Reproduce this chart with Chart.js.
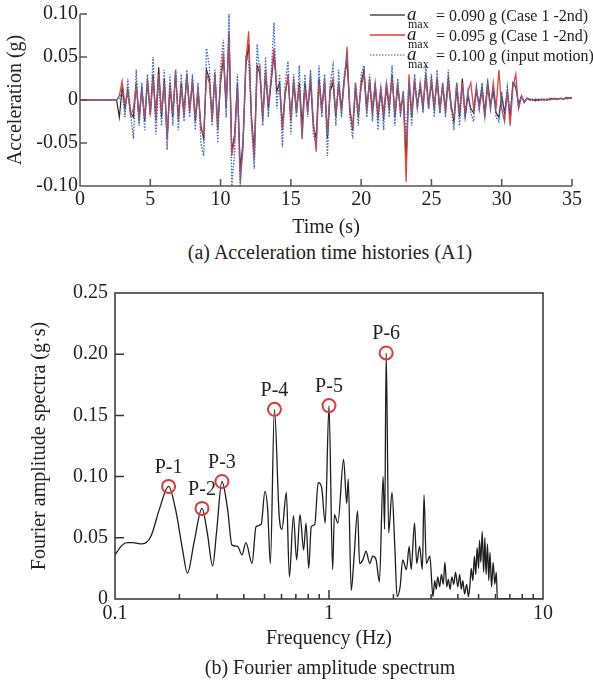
<!DOCTYPE html>
<html>
<head>
<meta charset="utf-8">
<script src="https://cdn.jsdelivr.net/npm/chart.js@4.4.1/dist/chart.umd.min.js"></script>
<style>
    html, body { margin: 0; padding: 0; background: #fff; }
    #page { position: relative; width: 593px; height: 684px; overflow: hidden; font-family: 'Liberation Serif', 'Times New Roman', serif; color: #222; }
    .box { position: absolute; left: 0; width: 593px; }
    #topBox { top: 0; height: 240px; }
    #bottomBox { top: 262px; height: 422px; }
    .caption { position: absolute; left: 30px; width: 600px; text-align: center; font-size: 20px; line-height: 24px; }
</style>
</head>
<body>
<div id="page">
    <div class="box" id="topBox"><canvas id="accelChart" width="593" height="240"></canvas></div>
    <div class="caption" style="top: 240px;">(a) Acceleration time histories (A1)</div>
    <div class="box" id="bottomBox"><canvas id="fourierChart" width="593" height="422"></canvas></div>
    <div class="caption" style="top: 655px;">(b) Fourier amplitude spectrum</div>
</div>
<script>
// ---- (a) acceleration time histories, sampled every 0.2 s ----
const timeSec = [
    0, 0.2, 0.4, 0.6, 0.8, 1, 1.2, 1.4, 1.6, 1.8,
    2, 2.2, 2.4, 2.6, 2.8, 3, 3.2, 3.4, 3.6, 3.8,
    4, 4.2, 4.4, 4.6, 4.8, 5, 5.2, 5.4, 5.6, 5.8,
    6, 6.2, 6.4, 6.6, 6.8, 7, 7.2, 7.4, 7.6, 7.8,
    8, 8.2, 8.4, 8.6, 8.8, 9, 9.2, 9.4, 9.6, 9.8,
    10, 10.2, 10.4, 10.6, 10.8, 11, 11.2, 11.4, 11.6, 11.8,
    12, 12.2, 12.4, 12.6, 12.8, 13, 13.2, 13.4, 13.6, 13.8,
    14, 14.2, 14.4, 14.6, 14.8, 15, 15.2, 15.4, 15.6, 15.8,
    16, 16.2, 16.4, 16.6, 16.8, 17, 17.2, 17.4, 17.6, 17.8,
    18, 18.2, 18.4, 18.6, 18.8, 19, 19.2, 19.4, 19.6, 19.8,
    20, 20.2, 20.4, 20.6, 20.8, 21, 21.2, 21.4, 21.6, 21.8,
    22, 22.2, 22.4, 22.6, 22.8, 23, 23.2, 23.4, 23.6, 23.8,
    24, 24.2, 24.4, 24.6, 24.8, 25, 25.2, 25.4, 25.6, 25.8,
    26, 26.2, 26.4, 26.6, 26.8, 27, 27.2, 27.4, 27.6, 27.8,
    28, 28.2, 28.4, 28.6, 28.8, 29, 29.2, 29.4, 29.6, 29.8,
    30, 30.2, 30.4, 30.6, 30.8, 31, 31.2, 31.4, 31.6, 31.8,
    32, 32.2, 32.4, 32.6, 32.8, 33, 33.2, 33.4, 33.6, 33.8,
    34, 34.2, 34.4, 34.6, 34.8, 35
];

// a_max = 0.090 g (Case 1 -2nd)
const accelCase090 = [
    0, 0, 0, 0, 0, 0, 0, 0, 0, 0,
    0, 0, 0, 0, -0.02, 0.015, -0.01, 0.012, -0.015, -0.02,
    0.02, -0.02, 0.015, -0.025, 0.02, -0.015, 0.03, -0.02, 0.038, -0.02,
    0.025, -0.045, 0.015, -0.02, 0.03, -0.02, 0.02, -0.015, 0.03, -0.01,
    0.02, -0.025, 0.01, -0.03, -0.045, 0.035, 0.025, -0.02, 0.03, -0.03,
    0.02, 0.05, -0.01, 0.075, -0.06, -0.04, 0.02, -0.08, -0.05, 0.04,
    0.065, -0.02, -0.06, 0.04, 0.03, -0.02, 0.03, -0.01, 0.02, 0.055,
    0.01, 0.02, -0.03, 0.01, 0.025, -0.02, 0.02, -0.015, 0.02, -0.03,
    0.02, -0.01, 0.02, -0.03, -0.045, 0.025, -0.01, 0.02, -0.045, 0.01,
    0.02, -0.02, 0.02, -0.01, 0.025, 0.045, -0.01, -0.035, 0.015, -0.02,
    0.02, 0.035, -0.01, 0.02, -0.015, 0.015, -0.02, 0.01, -0.02, 0.015,
    -0.01, 0.03, -0.02, 0.015, -0.01, 0.005, -0.07, 0.02, -0.02, 0.02,
    -0.005, 0.015, -0.01, 0.03, -0.005, 0.02, -0.01, 0.025, -0.01, 0.015,
    -0.01, 0.025, -0.005, -0.025, 0.015, -0.02, 0.025, -0.02, 0.005, -0.01,
    -0.015, 0.01, -0.005, 0.015, -0.015, 0.02, -0.005, 0.01, -0.015, -0.02,
    0.005, -0.015, 0.01, -0.02, 0.02, 0.015, -0.005, 0.004, -0.002, 0.002,
    0, 0.001, -0.001, 0.001, 0, 0.001, 0, 0.001, 0.002, 0.001,
    0.001, 0.002, 0.001, 0.003, 0.002, 0.003
];

// a_max = 0.095 g (Case 1 -2nd)
const accelCase095 = [
    0, 0, 0, 0, 0, 0, 0, 0, 0, 0,
    0, 0, 0, 0, 0.005, 0.022, -0.005, 0.008, -0.018, -0.01,
    0.018, -0.025, 0.012, -0.02, 0.025, -0.018, 0.025, -0.025, 0.03, -0.015,
    0.02, -0.045, 0.02, -0.015, 0.035, -0.025, 0.015, -0.02, 0.03, -0.015,
    0.025, -0.02, 0.015, -0.035, -0.04, 0.03, 0.02, -0.025, 0.03, -0.035,
    0.025, 0.055, -0.005, 0.08, -0.065, -0.045, 0.015, -0.095, -0.055, 0.045,
    0.08, -0.025, -0.07, 0.035, 0.04, -0.025, 0.035, -0.005, 0.025, 0.06,
    0.015, 0.015, -0.035, 0.005, 0.03, -0.025, 0.025, -0.01, 0.015, -0.045,
    0.015, -0.015, 0.03, -0.025, -0.06, 0.02, -0.015, 0.025, -0.04, 0.015,
    0.025, -0.015, 0.015, -0.015, 0.02, 0.062, -0.015, -0.03, 0.02, -0.015,
    0.015, 0.03, -0.015, 0.025, -0.01, 0.02, -0.015, 0.015, -0.015, 0.02,
    -0.005, 0.025, -0.015, 0.02, -0.015, 0.01, -0.095, 0.03, -0.015, 0.025,
    -0.01, 0.02, -0.005, 0.025, -0.01, 0.025, -0.005, 0.02, -0.015, 0.02,
    -0.015, 0.02, -0.01, -0.02, 0.02, -0.015, 0.02, -0.015, 0.01, 0.02,
    -0.01, 0.015, -0.01, 0.01, -0.02, 0.015, -0.01, 0.02, -0.01, 0.035,
    -0.01, -0.025, 0.01, -0.03, 0.015, 0.03, -0.01, 0.005, -0.003, 0.002,
    0.001, 0, 0.001, -0.001, 0.001, 0, 0.001, 0, 0.001, 0.002,
    0.001, 0.002, 0.001, 0.002, 0.003, 0.002
];

// a_max = 0.100 g (input motion)
const accelInput = [
    0, 0, 0, 0, 0, 0, 0, 0, 0, 0,
    0, 0, 0, 0, 0.002, 0.01, -0.02, 0.025, -0.015, -0.045,
    0.035, -0.03, 0.02, -0.035, 0.03, -0.02, 0.05, -0.04, 0.025, -0.03,
    0.035, -0.058, 0.03, -0.03, 0.035, -0.035, 0.03, -0.025, 0.035, -0.02,
    0.03, -0.035, 0.02, -0.05, -0.065, 0.06, 0.04, -0.03, 0.035, -0.05,
    0.04, 0.07, -0.02, 0.1, -0.1, -0.06, 0.03, -0.1, -0.04, 0.05,
    0.045, -0.03, -0.08, 0.065, 0.03, -0.03, 0.05, -0.02, 0.03, 0.09,
    -0.01, 0.03, -0.055, 0.02, 0.045, -0.04, 0.03, -0.02, 0.04, -0.045,
    0.03, -0.02, 0.035, -0.04, -0.05, 0.04, -0.02, 0.03, -0.065, 0.02,
    0.04, -0.03, 0.035, -0.02, 0.03, 0.05, -0.02, -0.045, 0.02, -0.03,
    0.03, 0.04, -0.02, 0.03, -0.025, 0.02, -0.035, 0.015, -0.035, 0.02,
    -0.02, 0.04, -0.03, 0.025, -0.02, 0.01, -0.045, 0.02, -0.03, 0.03,
    -0.01, 0.02, -0.015, 0.04, -0.01, 0.03, -0.02, 0.035, -0.015, 0.02,
    -0.02, 0.035, -0.01, -0.035, 0.02, -0.03, 0.015, -0.02, 0.01, -0.015,
    -0.025, 0.015, -0.01, 0.02, -0.02, 0.025, -0.01, 0.015, -0.02, -0.025,
    0.01, -0.02, 0.015, -0.015, 0.02, 0.02, -0.01, 0.005, -0.003, 0.002,
    0.001, 0, 0.001, 0, 0.001, 0, 0.001, 0.002, 0.001, 0.001,
    0.002, 0.001, 0.002, 0.001, 0.002, 0.003
];

const seriesNames = ['0.090 g (Case 1 -2nd)', '0.095 g (Case 1 -2nd)', '0.100 g (input motion)'];

const timeTicks = [0, 5, 10, 15, 20, 25, 30, 35];
const timeTickLabels = ['0', '5', '10', '15', '20', '25', '30', '35'];
const accelTicks = [-0.10, -0.05, 0, 0.05, 0.10];
const accelTickLabels = ['-0.10', '-0.05', '0', '0.05', '0.10'];

// ---- (b) Fourier amplitude spectrum ----
const freqHz = [
    0.100, 0.108, 0.114, 0.121, 0.134, 0.147, 0.161, 0.178, 0.192, 0.207,
    0.218, 0.234, 0.255, 0.270, 0.286, 0.298, 0.316, 0.336, 0.352, 0.374,
    0.392, 0.409, 0.437, 0.456, 0.482, 0.502, 0.517, 0.532, 0.556, 0.585,
    0.603, 0.632, 0.653, 0.682, 0.706, 0.732, 0.761, 0.781, 0.804, 0.826,
    0.858, 0.890, 0.924, 0.960, 1.000, 1.040, 1.060, 1.100, 1.170, 1.210,
    1.230, 1.270, 1.310, 1.360, 1.390, 1.440, 1.490, 1.550, 1.600, 1.660,
    1.720, 1.790, 1.820, 1.850, 1.900, 1.970, 2.030, 2.080, 2.150, 2.210,
    2.300, 2.370, 2.420, 2.510, 2.570, 2.650, 2.730, 2.780, 2.850, 2.960,
    3.060, 3.120, 3.170, 3.220, 3.290, 3.350, 3.420, 3.480, 3.550, 3.610,
    3.680, 3.750, 3.830, 3.900, 4.000, 4.080, 4.150, 4.220, 4.300, 4.400,
    4.480, 4.550, 4.620, 4.700, 4.780, 4.850, 4.920, 5.000, 5.050, 5.120,
    5.200, 5.280, 5.350, 5.420, 5.500, 5.580, 5.650, 5.750, 5.850, 5.950,
    6.050, 6.120, 7.000, 10.00
];
const fourierAmp = [
    0.036, 0.044, 0.046, 0.046, 0.045, 0.051, 0.073, 0.092, 0.073, 0.040,
    0.021, 0.046, 0.074, 0.054, 0.027, 0.054, 0.096, 0.073, 0.044, 0.043,
    0.036, 0.046, 0.029, 0.059, 0.061, 0.088, 0.073, 0.029, 0.155, 0.068,
    0.057, 0.087, 0.018, 0.068, 0.032, 0.069, 0.040, 0.062, 0.025, 0.059,
    0.061, 0.095, 0.091, 0.062, 0.158, 0.024, 0.069, 0.062, 0.114, 0.078,
    0.098, 0.007, 0.035, 0.072, 0.029, 0.032, 0.039, 0.029, 0.035, 0.032,
    0.014, 0.100, 0.057, 0.201, 0.054, 0.087, 0.043, 0.002, 0.010, 0.032,
    0.024, 0.043, 0.024, 0.062, 0.029, 0.043, 0.024, 0.085, 0.029, 0.035,
    0.002, 0.015, 0.008, 0.018, 0.010, 0.020, 0.012, 0.030, 0.010, 0.016,
    0.008, 0.018, 0.012, 0.022, 0.010, 0.020, 0.008, 0.015, 0.004, 0.012,
    0.002, 0.010, 0.025, 0.015, 0.035, 0.020, 0.042, 0.025, 0.048, 0.030,
    0.055, 0.022, 0.050, 0.020, 0.045, 0.015, 0.038, 0.010, 0.030, 0.012,
    0.022, 0.000, 0.000, 0.000
];

const peakFreq = [0.178, 0.255, 0.316, 0.556, 1.000, 1.850];
const peakAmp = [0.092, 0.074, 0.096, 0.155, 0.158, 0.201];
const peakLabels = ['P-1', 'P-2', 'P-3', 'P-4', 'P-5', 'P-6'];

const freqTicks = [0.1, 1, 10];
const freqTickLabels = ['0.1', '1', '10'];
const freqMinorTicks = [0.2, 0.3, 0.4, 0.5, 0.6, 0.7, 0.8, 0.9, 2, 3, 4, 5, 6, 7, 8, 9];
const ampTicks = [0, 0.05, 0.10, 0.15, 0.20, 0.25];
const ampTickLabels = ['0', '0.05', '0.10', '0.15', '0.20', '0.25'];

const SERIF = "'Liberation Serif', 'Times New Roman', serif";
const INK = '#222';

function toPoints(xs, ys) {
    return xs.map((x, i) => ({ x: x, y: ys[i] }));
}

// Axis lines and inward tick marks (the library only draws outward ticks)
const innerTicks = {
    id: 'innerTicks',
    afterDatasetsDraw(chart, args, opts) {
        const ctx = chart.ctx;
        const area = chart.chartArea;
        const xs = chart.scales.x;
        const ys = chart.scales.y;
        ctx.save();
        ctx.strokeStyle = opts.color;
        ctx.lineWidth = opts.lineWidth;
        ctx.beginPath();
        if (opts.frame) {
            ctx.rect(area.left, area.top, area.right - area.left, area.bottom - area.top);
        } else {
            ctx.moveTo(area.left, area.top);
            ctx.lineTo(area.left, area.bottom);
            ctx.lineTo(area.right, area.bottom);
        }
        (opts.xMajor || []).forEach(v => {
            const px = xs.getPixelForValue(v);
            ctx.moveTo(px, area.bottom);
            ctx.lineTo(px, area.bottom - opts.majorLen);
        });
        (opts.xMinor || []).forEach(v => {
            const px = xs.getPixelForValue(v);
            ctx.moveTo(px, area.bottom);
            ctx.lineTo(px, area.bottom - opts.minorLen);
        });
        (opts.yMajor || []).forEach(v => {
            const py = ys.getPixelForValue(v);
            ctx.moveTo(area.left, py);
            ctx.lineTo(area.left + opts.majorLen, py);
        });
        ctx.stroke();
        ctx.restore();
    }
};

// Legend with italic a and subscript "max"
const accelLegend = {
    id: 'accelLegend',
    afterDraw(chart, args, opts) {
        const ctx = chart.ctx;
        ctx.save();
        ctx.textAlign = 'left';
        ctx.textBaseline = 'middle';
        opts.items.forEach((item, i) => {
            const y = opts.top + i * opts.rowGap;
            ctx.strokeStyle = item.color;
            ctx.lineWidth = item.width;
            ctx.setLineDash(item.dash || []);
            ctx.beginPath();
            ctx.moveTo(opts.x, y - 2);
            ctx.lineTo(opts.x + opts.lineLen, y - 2);
            ctx.stroke();
            ctx.setLineDash([]);
            ctx.fillStyle = INK;
            ctx.font = 'italic 19px ' + SERIF;
            ctx.fillText('a', opts.x + opts.lineLen + 2, y - 2);
            ctx.font = '12px ' + SERIF;
            ctx.fillText('max', opts.x + opts.lineLen + 3, y + 8);
            ctx.font = '16px ' + SERIF;
            ctx.fillText('= ' + item.text, opts.x + opts.lineLen + 31, y);
        });
        ctx.restore();
    }
};

// P-n labels above the marked peaks
const peakNames = {
    id: 'peakNames',
    afterDatasetsDraw(chart, args, opts) {
        const meta = chart.getDatasetMeta(opts.datasetIndex);
        const ctx = chart.ctx;
        ctx.save();
        ctx.fillStyle = INK;
        ctx.font = '20px ' + SERIF;
        ctx.textAlign = 'center';
        ctx.textBaseline = 'middle';
        meta.data.forEach((el, i) => {
            ctx.fillText(opts.labels[i], el.x, el.y - opts.offset);
        });
        ctx.restore();
    }
};

const tickFont = { family: SERIF, size: 20 };

// Chart (a)
new Chart(document.getElementById('accelChart'), {
    type: 'line',
    data: {
        datasets: [
            {
                label: seriesNames[2],
                data: toPoints(timeSec, accelInput),
                borderColor: '#3e6bc6',
                borderWidth: 1.4,
                borderDash: [1.5, 1.5],
                pointRadius: 0,
                tension: 0,
                order: 0
            },
            {
                label: seriesNames[1],
                data: toPoints(timeSec, accelCase095),
                borderColor: '#e2453d',
                borderWidth: 1.3,
                pointRadius: 0,
                tension: 0,
                order: 1
            },
            {
                label: seriesNames[0],
                data: toPoints(timeSec, accelCase090),
                borderColor: '#2a2a2a',
                borderWidth: 1.2,
                pointRadius: 0,
                tension: 0,
                order: 2
            }
        ]
    },
    options: {
        responsive: false,
        animation: false,
        devicePixelRatio: 1,
        layout: { padding: { left: 0, right: 21, top: 14, bottom: 0 } },
        plugins: {
            legend: { display: false },
            tooltip: { enabled: false },
            innerTicks: {
                color: '#555', lineWidth: 1.5, frame: false,
                xMajor: timeTicks, yMajor: accelTicks, majorLen: 7
            },
            accelLegend: {
                x: 370, top: 17, rowGap: 20, lineLen: 35,
                items: [
                    { text: seriesNames[0], color: '#777', width: 2 },
                    { text: seriesNames[1], color: '#ef6b66', width: 2 },
                    { text: seriesNames[2], color: '#6f8fd0', width: 1.4, dash: [1.5, 1.5] }
                ]
            }
        },
        scales: {
            x: {
                type: 'linear',
                min: 0,
                max: 35,
                grid: { display: false, drawTicks: false },
                border: { display: false },
                afterBuildTicks: s => { s.ticks = timeTicks.map(v => ({ value: v })); },
                afterFit: s => { s.height = 54; },
                ticks: {
                    padding: 2, color: INK, font: tickFont, maxRotation: 0, autoSkip: false,
                    callback: (v, i) => timeTickLabels[i]
                },
                title: { display: true, text: 'Time (s)', color: INK, font: tickFont, padding: { top: 0, bottom: 0 } }
            },
            y: {
                min: -0.1,
                max: 0.1,
                grid: { display: false, drawTicks: false },
                border: { display: false },
                afterBuildTicks: s => { s.ticks = accelTicks.map(v => ({ value: v })); },
                afterFit: s => { s.width = 80; },
                ticks: {
                    padding: 2, color: INK, font: tickFont, autoSkip: false,
                    callback: (v, i) => accelTickLabels[i]
                },
                title: { display: true, text: 'Acceleration (g)', color: INK, font: tickFont, padding: { top: 4, bottom: 0 } }
            }
        }
    },
    plugins: [innerTicks, accelLegend]
});

// Chart (b)
new Chart(document.getElementById('fourierChart'), {
    type: 'line',
    data: {
        datasets: [
            {
                label: 'Peaks',
                data: toPoints(peakFreq, peakAmp),
                showLine: false,
                pointRadius: 6.5,
                pointBorderWidth: 2,
                pointBorderColor: '#e0393b',
                pointBackgroundColor: 'rgba(0,0,0,0)',
                order: 0
            },
            {
                label: 'Fourier amplitude',
                data: toPoints(freqHz, fourierAmp),
                borderColor: '#1e1e1e',
                borderWidth: 1.3,
                pointRadius: 0,
                cubicInterpolationMode: 'monotone',
                order: 1
            }
        ]
    },
    options: {
        responsive: false,
        animation: false,
        devicePixelRatio: 1,
        layout: { padding: { left: 0, right: 50, top: 31, bottom: 0 } },
        plugins: {
            legend: { display: false },
            tooltip: { enabled: false },
            innerTicks: {
                color: '#333', lineWidth: 1.5, frame: true,
                xMajor: freqTicks, xMinor: freqMinorTicks, yMajor: ampTicks,
                majorLen: 9, minorLen: 5
            },
            peakNames: { datasetIndex: 0, labels: peakLabels, offset: 19 }
        },
        scales: {
            x: {
                type: 'logarithmic',
                min: 0.1,
                max: 10,
                grid: { display: false, drawTicks: false },
                border: { display: false },
                afterBuildTicks: s => { s.ticks = freqTicks.map(v => ({ value: v })); },
                afterFit: s => { s.height = 85; },
                ticks: {
                    padding: 3, color: INK, font: tickFont, maxRotation: 0, autoSkip: false,
                    callback: (v, i) => freqTickLabels[i]
                },
                title: { display: true, text: 'Frequency (Hz)', color: INK, font: tickFont, padding: { top: 0, bottom: 33 } }
            },
            y: {
                min: 0,
                max: 0.25,
                grid: { display: false, drawTicks: false },
                border: { display: false },
                afterBuildTicks: s => { s.ticks = ampTicks.map(v => ({ value: v })); },
                afterFit: s => { s.width = 115; },
                ticks: {
                    padding: 7, color: INK, font: tickFont, autoSkip: false,
                    callback: (v, i) => ampTickLabels[i]
                },
                title: { display: true, text: 'Fourier amplitude spectra (g·s)', color: INK, font: tickFont, padding: { top: 28, bottom: 0 } }
            }
        }
    },
    plugins: [innerTicks, peakNames]
});
</script>
</body>
</html>
